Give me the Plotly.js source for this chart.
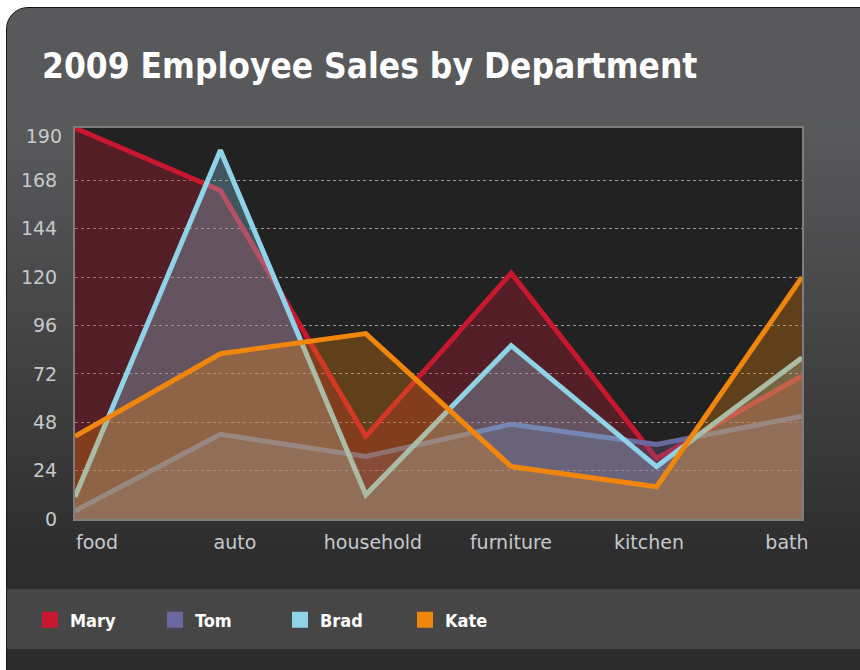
<!DOCTYPE html>
<html>
<head>
<meta charset="utf-8">
<script src="https://cdn.plot.ly/plotly-3.0.1.min.js"></script>
<style>
  html, body { margin: 0; padding: 0; background: #ffffff; width: 860px; height: 670px; overflow: hidden; }
  #panel {
    position: absolute; left: 6px; top: 7px; width: 880px; height: 700px;
    border-radius: 22px; border: 1px solid #161616; box-sizing: border-box; overflow: hidden;
    background: linear-gradient(to bottom, #59595b 0px, #58595b 120px, #444445 330px, #2e2e2e 540px, #2a2a2a 700px);
  }
  #band { position: absolute; left: 0; top: 581px; width: 100%; height: 60px; background: #464646; }
  #chart { position: absolute; left: 0; top: 0; width: 860px; height: 670px; }
</style>
</head>
<body>
<div id="panel"><div id="band"></div></div>
<div id="chart"></div>
<script>
const categories = ['food', 'auto', 'household', 'furniture', 'kitchen', 'bath'];
const mary = [194, 163, 41, 122, 30, 71];
const tom  = [4, 42, 31, 47, 37, 51];
const brad = [11, 183, 12, 86, 26, 80];
const kate = [41, 82, 92, 26, 16, 120];
const seriesNames = ['Mary', 'Tom', 'Brad', 'Kate'];
const yTicks = [0, 24, 48, 72, 96, 120, 144, 168];
const yTopTick = [190];

const colors = ['#c8182f', '#6b68a0', '#8fd3e8', '#f0870c'];
const fills = ['rgba(200,24,47,0.3)', 'rgba(107,104,160,0.3)', 'rgba(143,211,232,0.3)', 'rgba(240,135,12,0.3)'];
const series = [mary, tom, brad, kate];

const traces = [];
series.forEach((vals, i) => {
  traces.push({
    type: 'scatter', mode: 'lines', x: categories, y: vals,
    fill: 'tozeroy', fillcolor: fills[i],
    line: { color: colors[i], width: 5 },
    name: seriesNames[i], showlegend: false, hoverinfo: 'x+y+name'
  });
});
series.forEach((vals, i) => {
  traces.push({
    type: 'scatter', mode: 'markers', x: [null], y: [null],
    marker: { symbol: 'square', size: 17, color: colors[i] },
    name: seriesNames[i], showlegend: true
  });
});

const yRange = [0, 194];
const tickFont = { family: 'DejaVu Sans, Verdana, sans-serif', size: 19, color: '#c6cace' };

const layout = {
  width: 860, height: 670,
  paper_bgcolor: 'rgba(0,0,0,0)', plot_bgcolor: '#222222',
  margin: { l: 75, r: 58, t: 128, b: 151 },
  title: {
    text: '2009 Employee Sales by Department',
    font: { family: 'DejaVu Sans Condensed, Roboto, sans-serif', size: 35, color: '#ffffff', weight: 'bold' },
    xref: 'container', yref: 'container', x: 42 / 860, xanchor: 'left', y: 1 - 66 / 670, yanchor: 'middle'
  },
  xaxis: {
    type: 'category', range: [0, 5], showticklabels: false, showgrid: false, zeroline: false,
    showline: true, mirror: true, linecolor: '#7d7d7d', linewidth: 2, ticks: ''
  },
  xaxis2: {
    overlaying: 'x', type: 'linear', range: [-0.159, 5.109], side: 'bottom',
    tickvals: categories.map((c, i) => i), ticktext: categories,
    showgrid: false, zeroline: false, showline: false, ticks: '',
    tickfont: tickFont, ticklabelstandoff: 10
  },
  yaxis: {
    range: yRange, tickvals: yTicks, ticktext: yTicks.map(String),
    showgrid: true, gridcolor: '#9a9a9a', griddash: 'dot', gridwidth: 1,
    zeroline: false, showline: true, mirror: true, linecolor: '#7d7d7d', linewidth: 2,
    ticks: '', tickfont: tickFont, ticklabelstandoff: 12
  },
  yaxis2: {
    overlaying: 'y', range: yRange, tickvals: yTopTick, ticktext: yTopTick.map(String),
    side: 'left', showgrid: false, zeroline: false, showline: false, ticks: '',
    tickfont: tickFont, ticklabelstandoff: 12
  },
  showlegend: true,
  legend: {
    orientation: 'h', xref: 'container', yref: 'container',
    x: 30 / 860, xanchor: 'left', y: 1 - 620 / 670, yanchor: 'middle',
    bgcolor: 'rgba(0,0,0,0)', font: { family: 'DejaVu Sans Condensed, Roboto, sans-serif', size: 18, color: '#ffffff', weight: 'bold' },
    entrywidthmode: 'pixels', entrywidth: 80, itemclick: false, itemdoubleclick: false
  }
};

// dummy trace to attach the label axes
traces.push({ type: 'scatter', mode: 'markers', x: [null], y: [null], xaxis: 'x2', yaxis: 'y2', showlegend: false, hoverinfo: 'skip' });

Plotly.newPlot('chart', traces, layout, { displayModeBar: false, staticPlot: true });
</script>
</body>
</html>
